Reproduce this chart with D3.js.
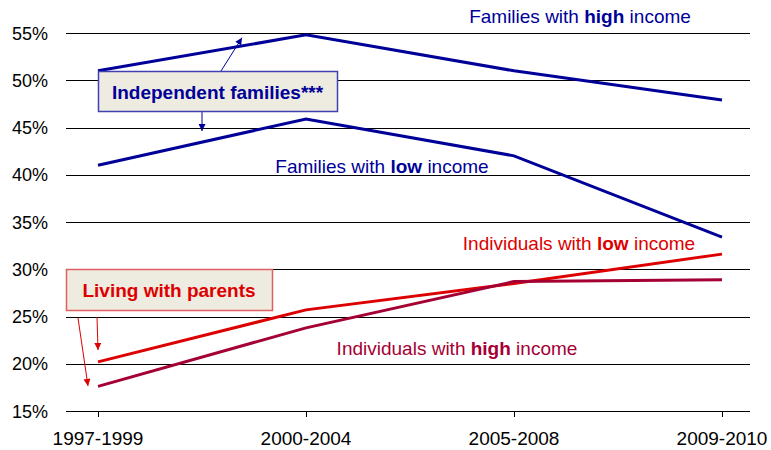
<!DOCTYPE html>
<html>
<head>
<meta charset="utf-8">
<script src="https://cdn.jsdelivr.net/npm/d3@7"></script>
<style>
  body { margin: 0; background: #fff; }
  svg { font-family: Arial, "Liberation Sans", sans-serif; }
  .axis text { fill: #000; }
</style>
</head>
<body>
<div id="chart"></div>
<script>
// data
const periods = ['1997-1999', '2000-2004', '2005-2008', '2009-2010'];
const yTicks = [15, 20, 25, 30, 35, 40, 45, 50, 55];
const familiesHigh = [51.0, 54.8, 51.0, 47.9];
const familiesLow = [41.0, 45.9, 42.0, 33.4];
const individualsLow = [20.2, 25.7, 28.5, 31.6];
const individualsHigh = [17.6, 23.8, 28.7, 28.9];

const BLUE = '#000099';
const RED = '#dd0000';
const DARKRED = '#a50034';
const FONT = '19px';

const series = [
  { key: 'fh', values: familiesHigh, color: BLUE },
  { key: 'fl', values: familiesLow, color: BLUE },
  { key: 'il', values: individualsLow, color: RED },
  { key: 'ih', values: individualsHigh, color: DARKRED },
];

// dimensions
const width = 771;
const height = 450;
const plotLeft = 66;
const plotRight = 750;

const scaleX = d3.scalePoint().domain(periods).range([98, 722]);
const scaleY = d3.scaleLinear().domain([15, 55]).range([411, 33]);

const $svg = d3.select('#chart').append('svg')
  .attr('width', width)
  .attr('height', height);

// arrow markers
function marker(id, color) {
  $svg.append('defs').append('marker')
    .attr('id', id)
    .attr('viewBox', '0 0 10 10')
    .attr('refX', 10)
    .attr('refY', 5)
    .attr('markerWidth', 8)
    .attr('markerHeight', 7)
    .attr('markerUnits', 'userSpaceOnUse')
    .attr('orient', 'auto')
    .append('path')
    .attr('d', 'M0,0 L10,5 L0,10 z')
    .attr('fill', color);
}
marker('arrow-blue', BLUE);
marker('arrow-red', RED);

// grid + y labels
const $grid = $svg.append('g').attr('class', 'axis');
$grid.selectAll('line')
  .data(yTicks)
  .join('line')
  .attr('x1', plotLeft)
  .attr('x2', plotRight)
  .attr('y1', d => Math.round(scaleY(d)) + 0.5)
  .attr('y2', d => Math.round(scaleY(d)) + 0.5)
  .attr('stroke', '#000')
  .attr('stroke-width', 1);
$grid.selectAll('text')
  .data(yTicks)
  .join('text')
  .attr('x', 48)
  .attr('y', d => scaleY(d) + 6.5)
  .attr('text-anchor', 'end')
  .style('font-size', '18px')
  .text(d => `${d}%`);

// x axis ticks + labels
const $xaxis = $svg.append('g').attr('class', 'axis');
$xaxis.selectAll('line')
  .data(periods)
  .join('line')
  .attr('x1', d => Math.round(scaleX(d)) + 0.5)
  .attr('x2', d => Math.round(scaleX(d)) + 0.5)
  .attr('y1', scaleY(15))
  .attr('y2', scaleY(15) + 6)
  .attr('stroke', '#000');
$xaxis.selectAll('text')
  .data(periods)
  .join('text')
  .attr('x', d => scaleX(d))
  .attr('y', 445)
  .attr('text-anchor', 'middle')
  .style('font-size', FONT)
  .text(d => d);

// lines
const line = d3.line()
  .x((d, i) => scaleX(periods[i]))
  .y(d => scaleY(d));

$svg.append('g').selectAll('path')
  .data(series, d => d.key)
  .join('path')
  .attr('d', d => line(d.values))
  .attr('fill', 'none')
  .attr('stroke', d => d.color)
  .attr('stroke-width', 3);

// series labels
function label(x, y, parts, color) {
  const $t = $svg.append('text')
    .attr('x', x)
    .attr('y', y)
    .attr('text-anchor', 'middle')
    .attr('fill', color)
    .style('font-size', FONT);
  parts.forEach(([txt, bold]) => {
    $t.append('tspan').text(txt).style('font-weight', bold ? 'bold' : 'normal');
  });
}
label(580, scaleY(56.1), [['Families with ', 0], ['high', 1], [' income', 0]], BLUE);
label(382, scaleY(40.2), [['Families with ', 0], ['low', 1], [' income', 0]], BLUE);
label(579, scaleY(32.0), [['Individuals with ', 0], ['low', 1], [' income', 0]], RED);
label(457, scaleY(20.9), [['Individuals with ', 0], ['high', 1], [' income', 0]], DARKRED);

// annotation arrows
function arrow(x1, y1, x2, y2, id, color) {
  $svg.append('line')
    .attr('x1', x1).attr('y1', y1)
    .attr('x2', x2).attr('y2', y2)
    .attr('stroke', color)
    .attr('stroke-width', 1)
    .attr('marker-end', `url(#${id})`);
}
arrow(221, 71, 242, scaleY(54.5), 'arrow-blue', BLUE);
arrow(202, 112, 202, 131, 'arrow-blue', BLUE);
arrow(97, 317, 98, 350, 'arrow-red', RED);
arrow(78, 318, 88, 386, 'arrow-red', RED);

// annotation boxes
function box(x, y, w, h, stroke, color, txt) {
  $svg.append('rect')
    .attr('x', x + 0.5).attr('y', y + 0.5)
    .attr('width', w).attr('height', h)
    .attr('fill', '#eeebe0')
    .attr('stroke', stroke)
    .attr('stroke-width', 1.5);
  $svg.append('text')
    .attr('x', x + w / 2)
    .attr('y', y + h / 2 + 7.5)
    .attr('text-anchor', 'middle')
    .attr('fill', color)
    .style('font-size', FONT)
    .style('font-weight', 'bold')
    .text(txt);
}
box(98, 71, 239, 40, '#4040b0', BLUE, 'Independent families***');
box(66, 269, 206, 41, '#e06060', RED, 'Living with parents');
</script>
</body>
</html>
